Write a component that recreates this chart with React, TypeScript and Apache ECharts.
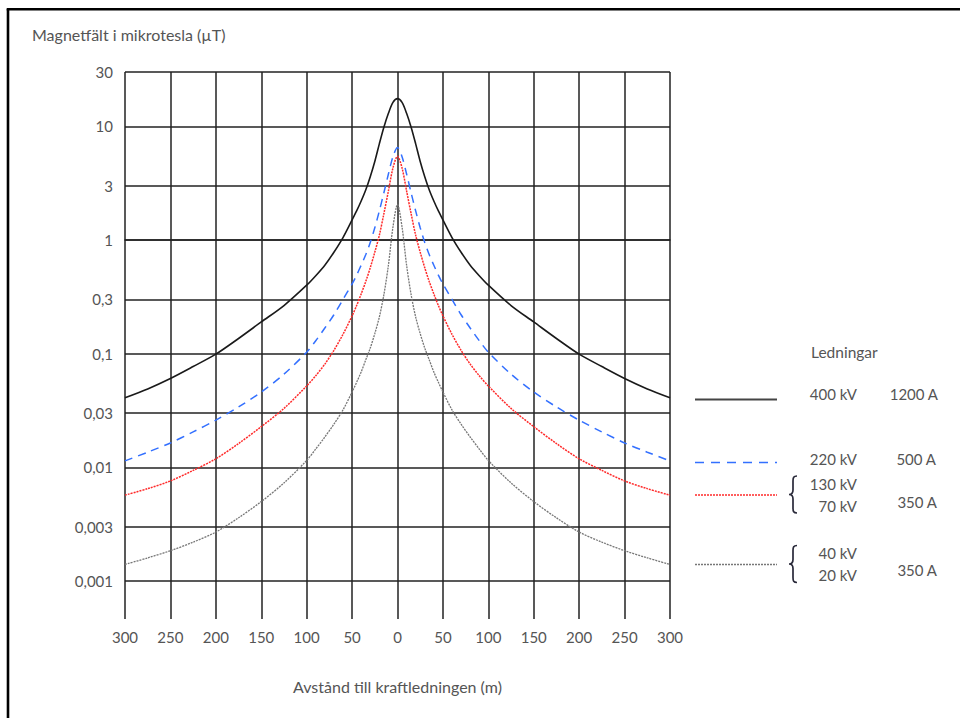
import React, { useEffect, useRef } from "react";
import * as echarts from "echarts";

// Distance from the power line (m), one side; the chart is symmetric around 0
const distances = [0, 5, 10, 15, 20, 25, 30, 35, 40, 45, 50, 60, 70, 80, 90, 100, 125, 150, 175, 200, 225, 250, 275, 300];

// Magnetic field in microtesla
const line400kV = [17.5, 16.2, 13, 9.8, 7.0, 4.9, 3.6, 2.75, 2.2, 1.8, 1.5, 1.05, 0.78, 0.6, 0.485, 0.4, 0.265, 0.19, 0.136, 0.099, 0.077, 0.0605, 0.049, 0.041];
const line220kV = [6.5, 5.4, 3.8, 2.6, 1.8, 1.28, 0.95, 0.74, 0.6, 0.49, 0.41, 0.3, 0.22, 0.168, 0.13, 0.103, 0.066, 0.046, 0.034, 0.026, 0.0205, 0.0164, 0.0136, 0.0114];
const line130kV = [5.45, 4.3, 2.7, 1.7, 1.1, 0.78, 0.57, 0.43, 0.335, 0.265, 0.215, 0.148, 0.107, 0.081, 0.064, 0.052, 0.033, 0.0228, 0.0162, 0.0119, 0.0094, 0.0076, 0.0065, 0.0057];
const line40kV = [2.05, 1.3, 0.6, 0.33, 0.21, 0.15, 0.112, 0.088, 0.069, 0.056, 0.046, 0.032, 0.024, 0.0185, 0.0145, 0.0115, 0.0073, 0.005, 0.0036, 0.0027, 0.0022, 0.00185, 0.0016, 0.0014];

const yTickValues = [30, 10, 3, 1, 0.3, 0.1, 0.03, 0.01, 0.003, 0.001];
const yTickLabels = ["30", "10", "3", "1", "0,3", "0,1", "0,03", "0,01", "0,003", "0,001"];
const yBottom = 0.000464;

const xTickStep = 50;
const xMax = 300;

const FONT = "Lato, 'Noto Sans', sans-serif";
const TEXT = "#555";
const GRID = "#222";

function mirrored(values: number[]) {
  const pts: number[][] = [];
  for (let i = distances.length - 1; i >= 1; i--) pts.push([-distances[i], Math.log10(values[i])]);
  for (let i = 0; i < distances.length; i++) pts.push([distances[i], Math.log10(values[i])]);
  return pts;
}

const braceD = "M8,0 C4.5,0 4,1.5 4,5 L4,14 C4,17 3,18.5 0,18.5 C3,18.5 4,20 4,23 L4,32 C4,35.5 4.5,37 8,37";

export default function App() {
  const ref = useRef<HTMLDivElement>(null);
  useEffect(() => {
    if (!ref.current) return;
    echarts.graphic.registerShape("brace", echarts.graphic.extendPath(braceD, {}));
    const chart = echarts.init(ref.current, null, { renderer: "svg" });
    const yLogTicks = yTickValues.map((v) => Math.log10(v));
    const labelFor = (val: number) => {
      for (let i = 0; i < yLogTicks.length; i++) {
        if (Math.abs(yLogTicks[i] - val) < 1e-6) return yTickLabels[i];
      }
      return "";
    };
    const txt = (text: string, x: number, y: number, align: string = "right", size = 15) => ({
      type: "text",
      x,
      y,
      style: {
        text,
        fill: TEXT,
        font: `${size}px ${FONT}`,
        textAlign: align,
        textVerticalAlign: "middle",
        align,
        verticalAlign: "middle",
      },
    });
    const legLine = (y: number, color: string, width: number, dash: any) => ({
      type: "line",
      shape: { x1: 695, y1: y, x2: 777, y2: y },
      style: { stroke: color, lineWidth: width, lineDash: dash },
    });
    const brace = (y: number) => ({
      type: "brace",
      x: 789,
      y,
      style: { fill: "none", stroke: "#2a2a3a", lineWidth: 1.7 },
    });
    const lineSeries = (name: string, values: number[], lineStyle: any) => ({
      name,
      type: "line",
      data: mirrored(values),
      showSymbol: false,
      smooth: 0.3,
      lineStyle,
    });
    chart.setOption({
      animation: false,
      backgroundColor: "#fff",
      title: {
        text: "Magnetfält i mikrotesla (µT)",
        left: 27,
        top: 21,
        textStyle: { fontFamily: FONT, fontSize: 16, fontWeight: "normal", color: TEXT },
      },
      grid: { left: 125, top: 72, width: 545, height: 547, containLabel: false },
      xAxis: {
        type: "value",
        min: -xMax,
        max: xMax,
        interval: xTickStep,
        name: "Avstånd till kraftledningen (m)",
        nameLocation: "middle",
        nameGap: 59,
        nameTextStyle: { fontFamily: FONT, fontSize: 16, color: TEXT },
        axisLine: { show: true, lineStyle: { color: GRID, width: 1.5 } },
        axisTick: { show: false },
        axisLabel: {
          margin: 10,
          fontFamily: FONT,
          fontSize: 15,
          color: TEXT,
          formatter: (v: number) => String(Math.abs(v)),
        },
        splitLine: { show: true, lineStyle: { color: GRID, width: 1.5 } },
      },
      yAxis: {
        type: "value",
        min: Math.log10(yBottom),
        max: Math.log10(yTickValues[0]),
        axisLine: { show: false },
        axisTick: { show: false, customValues: yLogTicks },
        axisLabel: {
          margin: 12,
          fontFamily: FONT,
          fontSize: 15,
          color: TEXT,
          customValues: yLogTicks,
          formatter: (v: number) => labelFor(v),
        },
        splitLine: { show: true, lineStyle: { color: GRID, width: 1.5 } },
      },
      series: [
        lineSeries("40 kV / 20 kV, 350 A", line40kV, { color: "#777", width: 1.3, type: [2, 1] }),
        lineSeries("130 kV / 70 kV, 350 A", line130kV, { color: "#ff2a2a", width: 1.5, type: [2, 1] }),
        lineSeries("220 kV, 500 A", line220kV, { color: "#3370ff", width: 1.5, type: [8, 6] }),
        lineSeries("400 kV, 1200 A", line400kV, { color: "#1a1a1a", width: 1.6 }),
      ],
      graphic: [
        { type: "line", shape: { x1: 8, y1: 9, x2: 8, y2: 718 }, style: { stroke: "#000", lineWidth: 2.6 } },
        { type: "line", shape: { x1: 6.7, y1: 9.2, x2: 960, y2: 9.2 }, style: { stroke: "#000", lineWidth: 2.4 } },
        txt("Ledningar", 811, 352, "left", 15.5),
        legLine(399.5, "#444", 1.8, "solid"),
        legLine(462.5, "#3370ff", 1.6, [9, 7]),
        legLine(495, "#ff2a2a", 1.5, [2, 1]),
        legLine(564.5, "#777", 1.3, [2, 1]),
        txt("400 kV", 857, 394),
        txt("1200 A", 938, 394),
        txt("220 kV", 857, 459),
        txt("500 A", 936, 459),
        brace(476),
        txt("130 kV", 857, 484),
        txt("70 kV", 857, 506),
        txt("350 A", 937, 502),
        brace(545.5),
        txt("40 kV", 857, 553),
        txt("20 kV", 857, 575),
        txt("350 A", 937, 570),
      ],
    });
    return () => chart.dispose();
  }, []);
  return <div ref={ref} style={{ position: "fixed", left: 0, top: 0, width: 960, height: 718 }} />;
}
